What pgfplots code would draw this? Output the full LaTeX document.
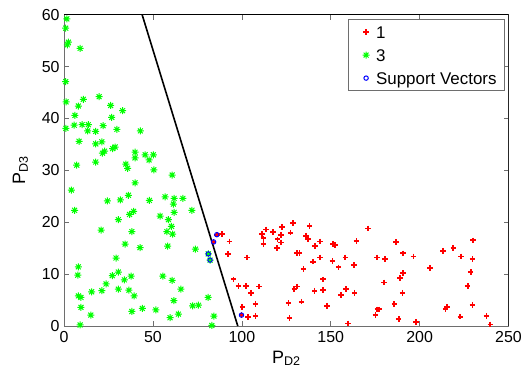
\documentclass[border=0pt]{standalone}
\usepackage{fontspec}
\setmainfont{Liberation Sans}
\usepackage{pgfplots}
\pgfplotsset{compat=1.18}

% eight-spoke asterisk: a plus with a smaller cross
\pgfdeclareplotmark{mstar}{%
  \pgfpathmoveto{\pgfqpoint{-\pgfplotmarksize}{0pt}}%
  \pgfpathlineto{\pgfqpoint{\pgfplotmarksize}{0pt}}%
  \pgfpathmoveto{\pgfqpoint{0pt}{-\pgfplotmarksize}}%
  \pgfpathlineto{\pgfqpoint{0pt}{\pgfplotmarksize}}%
  \pgfpathmoveto{\pgfqpoint{-.7\pgfplotmarksize}{-.7\pgfplotmarksize}}%
  \pgfpathlineto{\pgfqpoint{.7\pgfplotmarksize}{.7\pgfplotmarksize}}%
  \pgfpathmoveto{\pgfqpoint{-.7\pgfplotmarksize}{.7\pgfplotmarksize}}%
  \pgfpathlineto{\pgfqpoint{.7\pgfplotmarksize}{-.7\pgfplotmarksize}}%
  \pgfusepathqstroke}

\definecolor{axgray}{RGB}{110,110,110}

\begin{document}
\begin{tikzpicture}
\begin{axis}[
  at={(0bp,0bp)}, anchor=south west,
  scale only axis, width=444.4bp, height=311.3bp,
  xmin=0, xmax=250, ymin=0, ymax=60,
  xtick={0,50,...,250}, ytick={0,10,...,60},
  tick align=inside, major tick length=5bp,
  tick style={axgray, line width=0.6bp},
  axis line style={axgray, line width=1bp},
  /pgf/number format/assume math mode=true,
  ticklabel style={font=\fontsize{16}{19}\selectfont},
  xticklabel style={inner sep=0bp, yshift=-5.5bp},
  yticklabel style={inner sep=0bp, xshift=-4.3bp},
  xlabel={P\textsubscript{D2}},
  ylabel={P\textsubscript{D3}},
  label style={font=\fontsize{18}{21}\selectfont},
  xlabel style={at={(axis description cs:0.5,-0.1189)}, anchor=base},
  ylabel style={at={(axis description cs:-0.0878,0.5)}, anchor=base},
  legend cell align=left,
  legend image code/.code={%
    \path[draw=none, fill=none] (0bp,0bp) (20bp,0bp);
    \draw[#1, only marks] plot coordinates {(10bp,0bp)};},
  legend style={at={(rel axis cs:1,1)}, anchor=north east, xshift=-3.5bp, yshift=-4.3bp,
    draw=axgray, line width=0.8bp, fill=white,
    inner xsep=8bp, inner ysep=6.6bp, row sep=10.8bp,
    font=\fontsize{17}{20}\selectfont,
    nodes={inner sep=0bp, text height=12.2bp, text depth=0bp},
    /tikz/every even column/.append style={column sep=6bp}},
]
% class 1
\addplot[only marks, mark=+, mark size=2.8bp, red, line width=1.8bp] coordinates {
(88.7,17.7) (93.0,16.3) (92.1,13.9) (102.8,13.2) (95.3,9.0) (98.1,7.7) (102.4,7.7)
(109.6,7.6) (105.1,6.4) (107.7,4.2) (100.3,3.7) (103.4,1.7) (107.7,1.9) (113.7,18.6)
(111.4,17.7) (117.5,18.1) (122.5,19.1) (128.7,19.8) (138.1,19.3) (122.0,17.5) (127.4,18.0)
(112.2,16.9) (120.1,16.7) (122.0,16.1) (112.2,15.8) (119.7,15.0) (136.2,17.4) (137.2,16.7)
(143.9,16.3) (141.3,15.4) (151.2,15.8) (152.4,15.6) (132.4,14.1) (131.0,14.1) (143.9,13.2)
(140.0,12.4) (151.0,12.5) (158.2,13.2) (154.4,11.3) (134.7,11.0) (145.6,9.0) (131.0,7.6)
(129.5,7.1) (140.9,6.8) (145.8,6.9) (158.6,7.1) (155.9,6.0) (133.6,4.7) (126.2,4.4)
(147.9,3.9) (126.8,1.5) (159.7,0.5)
(163.2,11.7) (163.4,6.4) (171.0,18.8) (164.5,16.4) (176.0,13.2) (180.5,12.9) (186.7,16.2)
(190.7,14.0) (196.5,13.4) (190.7,10.2) (189.1,9.2) (180.0,8.4) (190.4,6.4) (185.8,4.2)
(176.2,3.2) (177.3,3.2) (175.2,2.1) (188.2,1.3) (198.1,0.8) (205.9,11.2) (213.3,14.5)
(219.0,15.0) (223.3,13.4) (230.1,16.5) (229.7,12.9) (228.7,10.4) (227.0,7.7) (229.7,4.1)
(215.4,3.7) (214.6,3.2) (222.9,1.8) (237.6,1.9) (239.8,0.3)
(85.9,17.6) (84.1,16.2) (99.8,2.1)
};
\addlegendentry{1}
% class 3
\addplot[only marks, mark=mstar, mark size=3.5bp, green, line width=1bp] coordinates {
(1.5,59.2) (0.9,57.4) (2.4,54.7) (1.8,54.2) (9.0,53.5) (0.9,47.1) (1.1,43.2) (10.8,43.7)
(8.0,42.4) (6.1,40.6) (19.7,44.2) (26.2,42.5) (32.9,41.5) (26.8,40.2) (5.7,38.7) (1.0,38.1)
(10.1,38.8) (13.6,38.8) (13.3,37.6) (17.8,37.5) (21.9,38.6) (29.7,37.9) (42.9,37.6) (8.4,35.6)
(21.2,35.5) (17.8,35.1) (28.7,34.5) (27.3,34.2) (22.8,33.7) (21.6,33.3) (39.9,33.5) (39.9,32.4)
(45.6,33.0) (50.2,33.0) (47.8,32.0) (34.7,31.2) (35.7,30.4) (17.8,31.6) (7.1,31.0) (50.5,30.1)
(60.8,29.1) (39.9,27.6) (4.1,26.2) (24.4,24.1) (31.6,24.3) (36.2,25.2) (48.0,24.2) (56.8,24.9)
(61.9,24.6) (66.8,24.6) (61.5,23.5) (71.9,22.3) (61.9,21.9) (5.9,22.3) (30.5,20.5) (36.8,21.5)
(39.1,22.1) (54.0,21.2) (58.7,20.5) (20.8,18.5) (38.1,18.2) (60.4,19.2) (57.8,18.2) (61.0,17.7)
(34.3,15.8) (42.7,15.1) (58.3,15.4) (73.9,14.8) (29.2,13.1) (8.0,11.4) (7.7,9.8) (30.5,10.4)
(27.1,9.7) (33.9,8.9) (37.7,9.6) (55.5,9.6) (60.8,8.8) (23.6,8.1) (21.2,6.8) (15.5,6.6)
(30.5,7.1) (36.5,6.9) (39.4,5.8) (65.7,7.1) (8.0,5.8) (9.5,5.5) (9.5,3.6) (15.0,2.1)
(38.1,2.8) (44.0,3.4) (51.6,3.1) (61.7,4.9) (72.3,3.9) (75.6,4.0) (81.0,5.5) (59.6,1.6)
(64.3,2.3) (84.3,1.9) (83.1,0.1) (9.0,0.2) (81.1,13.9) (82.1,12.7)
};
\addlegendentry{3}
% support vectors
\addplot[only marks, mark=o, mark size=2.2bp, blue, line width=1bp] coordinates {
(85.9,17.6) (84.1,16.2) (81.1,13.9) (82.1,12.7) (99.8,2.1)
};
\addlegendentry{Support Vectors}
% separating line
\addplot[black, line width=1.6bp, forget plot] coordinates {(43.9,60) (97.7,0)};
% darker top and right frame
\draw[black, line width=0.6bp] (rel axis cs:0,1) -- (rel axis cs:1,1) -- (rel axis cs:1,0);
\end{axis}
\pgfresetboundingbox
\path[use as bounding box] (-64.1bp,-53bp) rectangle (462.9bp,326bp);
\end{tikzpicture}
\end{document}
